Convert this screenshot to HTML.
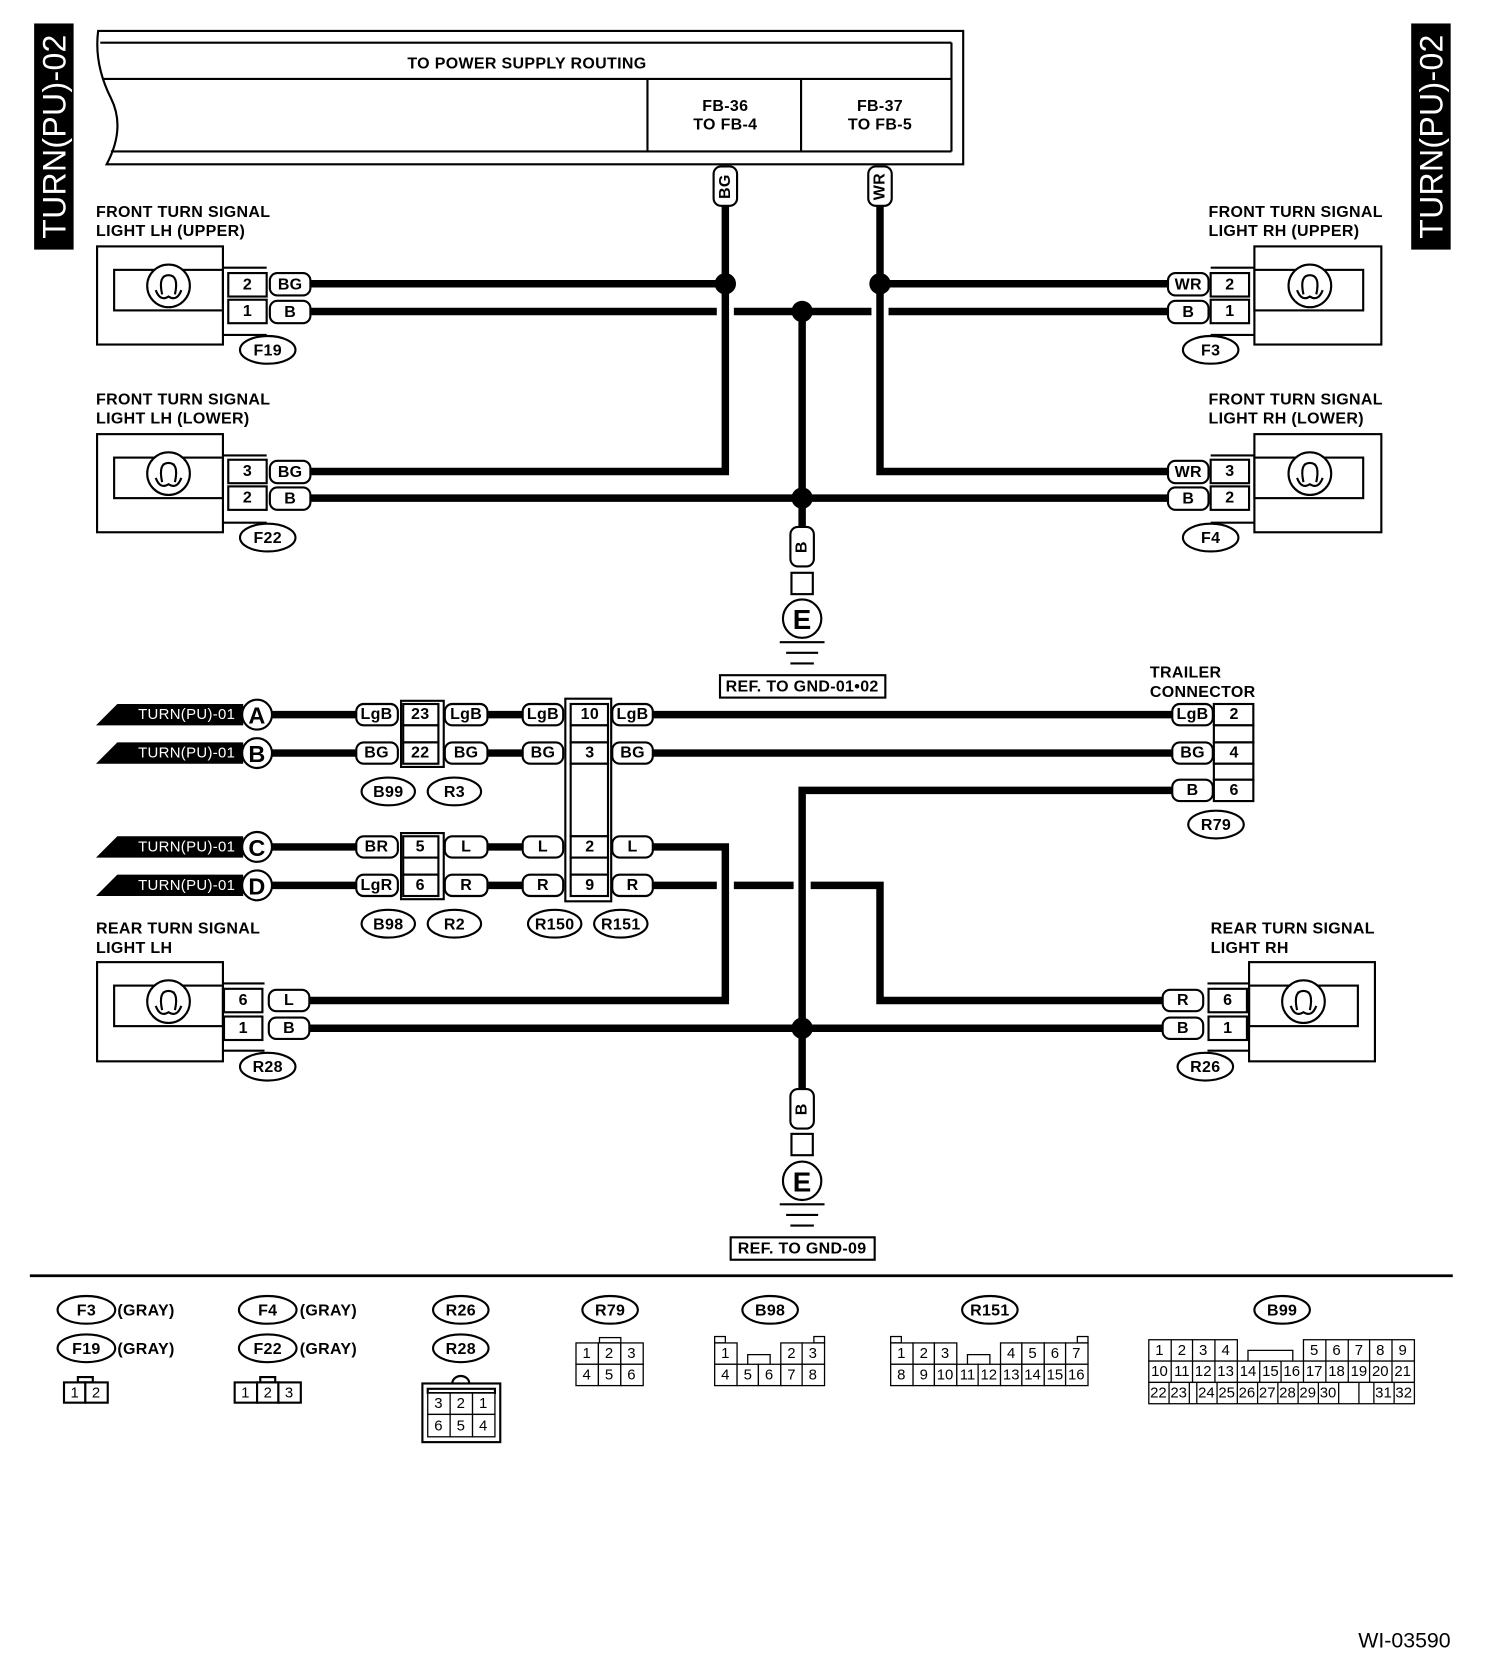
<!DOCTYPE html>
<html><head><meta charset="utf-8"><style>
html,body{margin:0;padding:0;background:#fff;width:1504px;height:1672px;overflow:hidden}
svg{display:block}
text{font-family:"Liberation Sans",Arial,sans-serif;font-weight:bold;font-size:15px;letter-spacing:0.3px;text-anchor:middle;dominant-baseline:central;fill:#000}
.n{font-weight:normal;font-size:14px;letter-spacing:0}
.l{text-anchor:start}
.w{fill:none;stroke:#000;stroke-width:7}
.s{fill:#fff;stroke:#000;stroke-width:2}
.b{fill:none;stroke:#000;stroke-width:2}
</style></head><body>
<svg width="1504" height="1672" viewBox="0 0 1410 1567.5" xmlns="http://www.w3.org/2000/svg">
<rect x="32" y="22" width="37" height="212" fill="#000"/>
<text transform="translate(51,128) rotate(-90)" style="fill:#fff;font-size:30px;font-weight:normal">TURN(PU)-02</text>
<rect x="1323" y="22" width="37" height="212" fill="#000"/>
<text transform="translate(1342,128) rotate(-90)" style="fill:#fff;font-size:30px;font-weight:normal">TURN(PU)-02</text>

<path d="M92,29 L903,29 L903,154 L100,154 Q118,120 104,92 Q88,60 92,29 Z" class="s" stroke-width="2.5"/>
<line x1="94" y1="40" x2="892" y2="40" class="b"/>
<line x1="892" y1="40" x2="892" y2="142" class="b"/>
<line x1="97" y1="74" x2="892" y2="74" class="b"/>
<line x1="104" y1="142" x2="892" y2="142" class="b"/>
<line x1="607" y1="74" x2="607" y2="142" class="b"/>
<line x1="751" y1="74" x2="751" y2="142" class="b"/>
<text x="494" y="60">TO POWER SUPPLY ROUTING</text>
<text x="680" y="100">FB-36</text><text x="680" y="117">TO FB-4</text>
<text x="825" y="100">FB-37</text><text x="825" y="117">TO FB-5</text>

<path class="w" d="M680,192 V442 H290"/>
<path class="w" d="M680,266 H290"/>
<path class="w" d="M825,192 V442 H1097"/>
<path class="w" d="M825,266 H1097"/>
<path class="w" d="M290,292 H672 M688,292 H817 M833,292 H1097"/>
<path class="w" d="M290,467 H1097"/>
<path class="w" d="M752,292 V497"/>
<circle cx="680" cy="266" r="10"/><circle cx="825" cy="266" r="10"/>
<circle cx="752" cy="292" r="10"/><circle cx="752" cy="467" r="10"/>
<rect x="669" y="156" width="22" height="37" rx="7" class="s"/>
<text transform="translate(680,175) rotate(-90)">BG</text>
<rect x="814" y="156" width="22" height="37" rx="7" class="s"/>
<text transform="translate(825,175) rotate(-90)">WR</text>

<rect x="741" y="494" width="22" height="37" rx="7" class="s"/>
<text transform="translate(752,513) rotate(-90)">B</text>
<rect x="742" y="537" width="20" height="20" class="s"/>
<circle cx="752" cy="580" r="18" class="s" stroke-width="2.5"/>
<text x="752" y="581" style="font-size:26px">E</text>
<line x1="731" y1="602" x2="773" y2="602" class="b"/>
<line x1="737" y1="612" x2="767" y2="612" class="b"/>
<line x1="741" y1="622" x2="763" y2="622" class="b"/>
<rect x="675" y="633" width="155" height="21" class="s"/>
<text x="752" y="644">REF. TO GND-01•02</text>

<text x="90" y="199" class="l">FRONT TURN SIGNAL</text>
<text x="90" y="217" class="l">LIGHT LH (UPPER)</text>
<rect x="91" y="231" width="118" height="92" class="s"/>
<rect x="107" y="253" width="102" height="38" class="b"/>
<circle cx="158" cy="268" r="20" class="s"/>
<path d="M146,272 Q150,283 158,278 Q166,283 170,272 M152,276 Q148,258 158,258 Q168,258 164,276" class="b" stroke-width="1.6"/>
<path d="M209,251 H250 M209,314 H250" class="b"/>
<rect x="214" y="256" width="36" height="22" class="s"/><text x="232" y="267">2</text>
<rect x="214" y="281" width="36" height="22" class="s"/><text x="232" y="292">1</text>
<rect x="253" y="256" width="38" height="21" rx="7" class="s"/><text x="272" y="267">BG</text>
<rect x="253" y="282" width="38" height="21" rx="7" class="s"/><text x="272" y="293">B</text>
<ellipse cx="251" cy="328" rx="26" ry="13" class="s"/><text x="251" y="329">F19</text>

<text x="90" y="375" class="l">FRONT TURN SIGNAL</text>
<text x="90" y="393" class="l">LIGHT LH (LOWER)</text>
<rect x="91" y="407" width="118" height="92" class="s"/>
<rect x="107" y="429" width="102" height="38" class="b"/>
<circle cx="158" cy="444" r="20" class="s"/>
<path d="M146,448 Q150,459 158,454 Q166,459 170,448 M152,452 Q148,434 158,434 Q168,434 164,452" class="b" stroke-width="1.6"/>
<path d="M209,427 H250 M209,490 H250" class="b"/>
<rect x="214" y="431" width="36" height="22" class="s"/><text x="232" y="442">3</text>
<rect x="214" y="456" width="36" height="22" class="s"/><text x="232" y="467">2</text>
<rect x="253" y="432" width="38" height="21" rx="7" class="s"/><text x="272" y="443">BG</text>
<rect x="253" y="457" width="38" height="21" rx="7" class="s"/><text x="272" y="468">B</text>
<ellipse cx="251" cy="504" rx="26" ry="13" class="s"/><text x="251" y="505">F22</text>

<text x="1133" y="199" class="l">FRONT TURN SIGNAL</text>
<text x="1133" y="217" class="l">LIGHT RH (UPPER)</text>
<rect x="1176" y="231" width="119" height="92" class="s"/>
<rect x="1176" y="253" width="102" height="38" class="b"/>
<circle cx="1228" cy="268" r="20" class="s"/>
<path d="M1216,272 Q1220,283 1228,278 Q1236,283 1240,272 M1222,276 Q1218,258 1228,258 Q1238,258 1234,276" class="b" stroke-width="1.6"/>
<path d="M1135,251 H1176 M1135,314 H1176" class="b"/>
<rect x="1135" y="256" width="36" height="22" class="s"/><text x="1153" y="267">2</text>
<rect x="1135" y="281" width="36" height="22" class="s"/><text x="1153" y="292">1</text>
<rect x="1095" y="256" width="38" height="21" rx="7" class="s"/><text x="1114" y="267">WR</text>
<rect x="1095" y="282" width="38" height="21" rx="7" class="s"/><text x="1114" y="293">B</text>
<ellipse cx="1135" cy="328" rx="26" ry="13" class="s"/><text x="1135" y="329">F3</text>

<text x="1133" y="375" class="l">FRONT TURN SIGNAL</text>
<text x="1133" y="393" class="l">LIGHT RH (LOWER)</text>
<rect x="1176" y="407" width="119" height="92" class="s"/>
<rect x="1176" y="429" width="102" height="38" class="b"/>
<circle cx="1228" cy="444" r="20" class="s"/>
<path d="M1216,448 Q1220,459 1228,454 Q1236,459 1240,448 M1222,452 Q1218,434 1228,434 Q1238,434 1234,452" class="b" stroke-width="1.6"/>
<path d="M1135,427 H1176 M1135,490 H1176" class="b"/>
<rect x="1135" y="431" width="36" height="22" class="s"/><text x="1153" y="442">3</text>
<rect x="1135" y="456" width="36" height="22" class="s"/><text x="1153" y="467">2</text>
<rect x="1095" y="432" width="38" height="21" rx="7" class="s"/><text x="1114" y="443">WR</text>
<rect x="1095" y="457" width="38" height="21" rx="7" class="s"/><text x="1114" y="468">B</text>
<ellipse cx="1135" cy="504" rx="26" ry="13" class="s"/><text x="1135" y="505">F4</text>

<path class="w" d="M255,670 H334 M458,670 H490 M612,670 H1099"/>
<path class="w" d="M255,706 H334 M458,706 H490 M612,706 H1099"/>
<path class="w" d="M255,794 H334 M458,794 H490 M612,794 H680 V938 H290"/>
<path class="w" d="M255,830 H334 M458,830 H490 M612,830 H672 M688,830 H744 M760,830 H825 V938 H1090"/>
<path class="w" d="M1099,741 H752 V1022"/>
<path class="w" d="M290,964 H1090"/>
<circle cx="752" cy="964" r="10"/>

<g>
<path d="M90,680 L110,660 L228,660 L228,680 Z"/><text x="175" y="670" style="fill:#fff;font-weight:normal;font-size:14px">TURN(PU)-01</text>
<circle cx="241" cy="670" r="14" class="s" stroke-width="2.5"/><text x="241" y="671" style="font-size:22px">A</text>
<path d="M90,716 L110,696 L228,696 L228,716 Z"/><text x="175" y="706" style="fill:#fff;font-weight:normal;font-size:14px">TURN(PU)-01</text>
<circle cx="241" cy="706" r="14" class="s" stroke-width="2.5"/><text x="241" y="707" style="font-size:22px">B</text>
<path d="M90,804 L110,784 L228,784 L228,804 Z"/><text x="175" y="794" style="fill:#fff;font-weight:normal;font-size:14px">TURN(PU)-01</text>
<circle cx="241" cy="794" r="14" class="s" stroke-width="2.5"/><text x="241" y="795" style="font-size:22px">C</text>
<path d="M90,840 L110,820 L228,820 L228,840 Z"/><text x="175" y="830" style="fill:#fff;font-weight:normal;font-size:14px">TURN(PU)-01</text>
<circle cx="241" cy="830" r="14" class="s" stroke-width="2.5"/><text x="241" y="831" style="font-size:22px">D</text>
</g>

<path d="M376,657 H416 V719 H376 Z" class="b"/>
<rect x="378" y="660" width="33" height="20" class="s"/><text x="394" y="670">23</text>
<rect x="378" y="680" width="33" height="16" class="s"/>
<rect x="378" y="696" width="33" height="20" class="s"/><text x="394" y="706">22</text>
<rect x="334" y="660" width="39" height="20" rx="7" class="s"/><text x="353" y="670">LgB</text>
<rect x="334" y="696" width="39" height="20" rx="7" class="s"/><text x="353" y="706">BG</text>
<rect x="417" y="660" width="40" height="20" rx="7" class="s"/><text x="437" y="670">LgB</text>
<rect x="417" y="696" width="40" height="20" rx="7" class="s"/><text x="437" y="706">BG</text>
<ellipse cx="364" cy="742" rx="25" ry="13" class="s"/><text x="364" y="743">B99</text>
<ellipse cx="426" cy="742" rx="25" ry="13" class="s"/><text x="426" y="743">R3</text>

<path d="M376,781 H416 V843 H376 Z" class="b"/>
<rect x="378" y="784" width="33" height="20" class="s"/><text x="394" y="794">5</text>
<rect x="378" y="804" width="33" height="16" class="s"/>
<rect x="378" y="820" width="33" height="20" class="s"/><text x="394" y="830">6</text>
<rect x="334" y="784" width="39" height="20" rx="7" class="s"/><text x="353" y="794">BR</text>
<rect x="334" y="820" width="39" height="20" rx="7" class="s"/><text x="353" y="830">LgR</text>
<rect x="417" y="784" width="40" height="20" rx="7" class="s"/><text x="437" y="794">L</text>
<rect x="417" y="820" width="40" height="20" rx="7" class="s"/><text x="437" y="830">R</text>
<ellipse cx="364" cy="866" rx="25" ry="13" class="s"/><text x="364" y="867">B98</text>
<ellipse cx="426" cy="866" rx="25" ry="13" class="s"/><text x="426" y="867">R2</text>

<path d="M530,655 H573 V845 H530 Z" class="b"/>
<rect x="535" y="660" width="35" height="20" class="s"/><text x="553" y="670">10</text>
<rect x="535" y="680" width="35" height="16" class="s"/>
<rect x="535" y="696" width="35" height="20" class="s"/><text x="553" y="706">3</text>
<rect x="535" y="716" width="35" height="68" class="s"/>
<rect x="535" y="784" width="35" height="20" class="s"/><text x="553" y="794">2</text>
<rect x="535" y="804" width="35" height="16" class="s"/>
<rect x="535" y="820" width="35" height="20" class="s"/><text x="553" y="830">9</text>
<rect x="490" y="660" width="38" height="20" rx="7" class="s"/><text x="509" y="670">LgB</text>
<rect x="490" y="696" width="38" height="20" rx="7" class="s"/><text x="509" y="706">BG</text>
<rect x="490" y="784" width="38" height="20" rx="7" class="s"/><text x="509" y="794">L</text>
<rect x="490" y="820" width="38" height="20" rx="7" class="s"/><text x="509" y="830">R</text>
<rect x="574" y="660" width="38" height="20" rx="7" class="s"/><text x="593" y="670">LgB</text>
<rect x="574" y="696" width="38" height="20" rx="7" class="s"/><text x="593" y="706">BG</text>
<rect x="574" y="784" width="38" height="20" rx="7" class="s"/><text x="593" y="794">L</text>
<rect x="574" y="820" width="38" height="20" rx="7" class="s"/><text x="593" y="830">R</text>
<ellipse cx="520" cy="866" rx="25" ry="13" class="s"/><text x="520" y="867">R150</text>
<ellipse cx="582" cy="866" rx="25" ry="13" class="s"/><text x="582" y="867">R151</text>

<text x="1078" y="631" class="l">TRAILER</text>
<text x="1078" y="649" class="l">CONNECTOR</text>
<rect x="1138" y="660" width="37" height="20" class="s"/><text x="1157" y="670">2</text>
<rect x="1138" y="680" width="37" height="16" class="s"/>
<rect x="1138" y="696" width="37" height="20" class="s"/><text x="1157" y="706">4</text>
<rect x="1138" y="716" width="37" height="15" class="s"/>
<rect x="1138" y="731" width="37" height="20" class="s"/><text x="1157" y="741">6</text>
<rect x="1099" y="660" width="38" height="20" rx="7" class="s"/><text x="1118" y="670">LgB</text>
<rect x="1099" y="696" width="38" height="20" rx="7" class="s"/><text x="1118" y="706">BG</text>
<rect x="1099" y="731" width="38" height="20" rx="7" class="s"/><text x="1118" y="741">B</text>
<ellipse cx="1140" cy="773" rx="26" ry="13" class="s"/><text x="1140" y="774">R79</text>

<text x="90" y="871" class="l">REAR TURN SIGNAL</text>
<text x="90" y="889" class="l">LIGHT LH</text>
<rect x="91" y="902" width="118" height="93" class="s"/>
<rect x="107" y="924" width="102" height="38" class="b"/>
<circle cx="158" cy="939" r="20" class="s"/>
<path d="M146,943 Q150,954 158,949 Q166,954 170,943 M152,947 Q148,929 158,929 Q168,929 164,947" class="b" stroke-width="1.6"/>
<path d="M209,922 H248 M209,985 H248" class="b"/>
<rect x="210" y="927" width="36" height="22" class="s"/><text x="228" y="938">6</text>
<rect x="210" y="953" width="36" height="22" class="s"/><text x="228" y="964">1</text>
<rect x="252" y="928" width="38" height="20" rx="7" class="s"/><text x="271" y="938">L</text>
<rect x="252" y="954" width="38" height="20" rx="7" class="s"/><text x="271" y="964">B</text>
<ellipse cx="251" cy="1000" rx="26" ry="13" class="s"/><text x="251" y="1001">R28</text>

<text x="1135" y="871" class="l">REAR TURN SIGNAL</text>
<text x="1135" y="889" class="l">LIGHT RH</text>
<rect x="1171" y="902" width="118" height="93" class="s"/>
<rect x="1171" y="924" width="102" height="38" class="b"/>
<circle cx="1222" cy="939" r="20" class="s"/>
<path d="M1210,943 Q1214,954 1222,949 Q1230,954 1234,943 M1216,947 Q1212,929 1222,929 Q1232,929 1228,947" class="b" stroke-width="1.6"/>
<path d="M1132,922 H1171 M1132,985 H1171" class="b"/>
<rect x="1133" y="927" width="36" height="22" class="s"/><text x="1151" y="938">6</text>
<rect x="1133" y="953" width="36" height="22" class="s"/><text x="1151" y="964">1</text>
<rect x="1090" y="928" width="38" height="20" rx="7" class="s"/><text x="1109" y="938">R</text>
<rect x="1090" y="954" width="38" height="20" rx="7" class="s"/><text x="1109" y="964">B</text>
<ellipse cx="1130" cy="1000" rx="26" ry="13" class="s"/><text x="1130" y="1001">R26</text>

<rect x="741" y="1021" width="22" height="37" rx="7" class="s"/>
<text transform="translate(752,1040) rotate(-90)">B</text>
<rect x="742" y="1063" width="20" height="20" class="s"/>
<circle cx="752" cy="1107" r="18" class="s" stroke-width="2.5"/>
<text x="752" y="1108" style="font-size:26px">E</text>
<line x1="731" y1="1129" x2="773" y2="1129" class="b"/>
<line x1="737" y1="1139" x2="767" y2="1139" class="b"/>
<line x1="741" y1="1149" x2="763" y2="1149" class="b"/>
<rect x="685" y="1160" width="135" height="21" class="s"/>
<text x="752" y="1171">REF. TO GND-09</text>

<line x1="28" y1="1196" x2="1362" y2="1196" stroke="#000" stroke-width="2.5"/>

<ellipse cx="81" cy="1228" rx="27" ry="13" class="s"/><text x="81" y="1229">F3</text><text x="110" y="1229" class="l">(GRAY)</text>
<ellipse cx="81" cy="1264" rx="27" ry="13" class="s"/><text x="81" y="1265">F19</text><text x="110" y="1265" class="l">(GRAY)</text>
<rect x="73" y="1291" width="14" height="5" class="s" stroke-width="1.5"/>
<rect x="60" y="1296" width="20" height="19" class="s" stroke-width="1.5"/><text x="70" y="1306" class="n">1</text>
<rect x="80" y="1296" width="21" height="19" class="s" stroke-width="1.5"/><text x="90" y="1306" class="n">2</text>

<ellipse cx="251" cy="1228" rx="27" ry="13" class="s"/><text x="251" y="1229">F4</text><text x="281" y="1229" class="l">(GRAY)</text>
<ellipse cx="251" cy="1264" rx="27" ry="13" class="s"/><text x="251" y="1265">F22</text><text x="281" y="1265" class="l">(GRAY)</text>
<rect x="244" y="1291" width="14" height="5" class="s" stroke-width="1.5"/>
<rect x="220" y="1296" width="21" height="19" class="s" stroke-width="1.5"/><text x="230" y="1306" class="n">1</text>
<rect x="241" y="1296" width="20" height="19" class="s" stroke-width="1.5"/><text x="251" y="1306" class="n">2</text>
<rect x="261" y="1296" width="21" height="19" class="s" stroke-width="1.5"/><text x="271" y="1306" class="n">3</text>

<ellipse cx="432" cy="1228" rx="26" ry="13" class="s"/><text x="432" y="1229">R26</text>
<ellipse cx="432" cy="1264" rx="26" ry="13" class="s"/><text x="432" y="1265">R28</text>
<path d="M424,1297 A8,7 0 0 1 440,1297" class="b" stroke-width="1.5"/>
<rect x="396" y="1297" width="73" height="55" class="s" stroke-width="1.5"/>
<rect x="401" y="1302" width="63" height="4" class="s" stroke-width="1.2"/>
<g stroke="#000" stroke-width="1.2" fill="#fff">
<rect x="401" y="1306" width="21" height="20"/><rect x="422" y="1306" width="21" height="20"/><rect x="443" y="1306" width="21" height="20"/>
<rect x="401" y="1326" width="21" height="21"/><rect x="422" y="1326" width="21" height="21"/><rect x="443" y="1326" width="21" height="21"/>
</g>
<text x="411" y="1316" class="n">3</text><text x="432" y="1316" class="n">2</text><text x="453" y="1316" class="n">1</text>
<text x="411" y="1337" class="n">6</text><text x="432" y="1337" class="n">5</text><text x="453" y="1337" class="n">4</text>

<ellipse cx="572" cy="1228" rx="26" ry="13" class="s"/><text x="572" y="1229">R79</text>
<g stroke="#000" stroke-width="1.2" fill="#fff">
<rect x="562" y="1254" width="20" height="5"/>
<rect x="540" y="1259" width="21" height="20"/><rect x="561" y="1259" width="21" height="20"/><rect x="582" y="1259" width="21" height="20"/>
<rect x="540" y="1279" width="21" height="20"/><rect x="561" y="1279" width="21" height="20"/><rect x="582" y="1279" width="21" height="20"/>
</g>
<text x="550" y="1269" class="n">1</text><text x="571" y="1269" class="n">2</text><text x="592" y="1269" class="n">3</text>
<text x="550" y="1289" class="n">4</text><text x="571" y="1289" class="n">5</text><text x="592" y="1289" class="n">6</text>

<ellipse cx="722" cy="1228" rx="26" ry="13" class="s"/><text x="722" y="1229">B98</text>
<g stroke="#000" stroke-width="1.2" fill="#fff">
<rect x="670" y="1253" width="10" height="6"/><rect x="763" y="1253" width="10" height="6"/>
<rect x="670" y="1259" width="21" height="20"/>
<path d="M701,1279 V1270 H722 V1279" fill="none"/>
<rect x="732" y="1259" width="20" height="20"/><rect x="752" y="1259" width="21" height="20"/>
<rect x="670" y="1279" width="21" height="20"/><rect x="691" y="1279" width="20" height="20"/><rect x="711" y="1279" width="21" height="20"/><rect x="732" y="1279" width="20" height="20"/><rect x="752" y="1279" width="21" height="20"/>
</g>
<text x="680" y="1269" class="n">1</text><text x="742" y="1269" class="n">2</text><text x="762" y="1269" class="n">3</text>
<text x="680" y="1289" class="n">4</text><text x="701" y="1289" class="n">5</text><text x="721" y="1289" class="n">6</text><text x="742" y="1289" class="n">7</text><text x="762" y="1289" class="n">8</text>

<ellipse cx="928" cy="1228" rx="26" ry="13" class="s"/><text x="928" y="1229">R151</text>
<g stroke="#000" stroke-width="1.2" fill="#fff">
<rect x="835" y="1253" width="10" height="6"/><rect x="1010" y="1253" width="10" height="6"/>
<rect x="835" y="1259" width="21" height="20"/><rect x="856" y="1259" width="20" height="20"/><rect x="876" y="1259" width="21" height="20"/>
<path d="M907,1279 V1270 H928 V1279" fill="none"/>
<rect x="938" y="1259" width="20" height="20"/><rect x="958" y="1259" width="21" height="20"/><rect x="979" y="1259" width="20" height="20"/><rect x="999" y="1259" width="21" height="20"/>
<rect x="835" y="1279" width="21" height="20"/><rect x="856" y="1279" width="20" height="20"/><rect x="876" y="1279" width="21" height="20"/><rect x="897" y="1279" width="20" height="20"/><rect x="917" y="1279" width="21" height="20"/><rect x="938" y="1279" width="20" height="20"/><rect x="958" y="1279" width="21" height="20"/><rect x="979" y="1279" width="20" height="20"/><rect x="999" y="1279" width="21" height="20"/>
</g>
<text x="845" y="1269" class="n">1</text><text x="866" y="1269" class="n">2</text><text x="886" y="1269" class="n">3</text><text x="948" y="1269" class="n">4</text><text x="968" y="1269" class="n">5</text><text x="989" y="1269" class="n">6</text><text x="1009" y="1269" class="n">7</text>
<text x="845" y="1289" class="n">8</text><text x="866" y="1289" class="n">9</text><text x="886" y="1289" class="n">10</text><text x="907" y="1289" class="n">11</text><text x="927" y="1289" class="n">12</text><text x="948" y="1289" class="n">13</text><text x="968" y="1289" class="n">14</text><text x="989" y="1289" class="n">15</text><text x="1009" y="1289" class="n">16</text>

<ellipse cx="1202" cy="1228" rx="26" ry="13" class="s"/><text x="1202" y="1229">B99</text>
<g stroke="#000" stroke-width="1.2" fill="#fff">
<rect x="1077" y="1256" width="83" height="20"/>
<path d="M1098,1256 V1276 M1118,1256 V1276 M1139,1256 V1276"/>
<path d="M1170,1276 V1266 H1212 V1276" fill="none"/>
<rect x="1222" y="1256" width="104" height="20"/>
<path d="M1243,1256 V1276 M1264,1256 V1276 M1284,1256 V1276 M1305,1256 V1276"/>
<rect x="1077" y="1276" width="249" height="20"/>
<path d="M1098,1276 V1296 M1118,1276 V1296 M1139,1276 V1296 M1160,1276 V1296 M1181,1276 V1296 M1201,1276 V1296 M1222,1276 V1296 M1243,1276 V1296 M1264,1276 V1296 M1284,1276 V1296 M1305,1276 V1296"/>
<rect x="1077" y="1296" width="249" height="20"/>
<path d="M1096,1296 V1316 M1115,1296 V1316 M1122,1296 V1316 M1141,1296 V1316 M1160,1296 V1316 M1179,1296 V1316 M1198,1296 V1316 M1217,1296 V1316 M1236,1296 V1316 M1255,1296 V1316 M1274,1296 V1316 M1288,1296 V1316 M1307,1296 V1316"/>
</g>
<text x="1087" y="1266" class="n">1</text><text x="1108" y="1266" class="n">2</text><text x="1128" y="1266" class="n">3</text><text x="1149" y="1266" class="n">4</text>
<text x="1232" y="1266" class="n">5</text><text x="1253" y="1266" class="n">6</text><text x="1274" y="1266" class="n">7</text><text x="1294" y="1266" class="n">8</text><text x="1315" y="1266" class="n">9</text>
<text x="1087" y="1286" class="n">10</text><text x="1108" y="1286" class="n">11</text><text x="1128" y="1286" class="n">12</text><text x="1149" y="1286" class="n">13</text><text x="1170" y="1286" class="n">14</text><text x="1191" y="1286" class="n">15</text><text x="1211" y="1286" class="n">16</text><text x="1232" y="1286" class="n">17</text><text x="1253" y="1286" class="n">18</text><text x="1274" y="1286" class="n">19</text><text x="1294" y="1286" class="n">20</text><text x="1315" y="1286" class="n">21</text>
<text x="1086" y="1306" class="n">22</text><text x="1105" y="1306" class="n">23</text><text x="1131" y="1306" class="n">24</text><text x="1150" y="1306" class="n">25</text><text x="1169" y="1306" class="n">26</text><text x="1188" y="1306" class="n">27</text><text x="1207" y="1306" class="n">28</text><text x="1226" y="1306" class="n">29</text><text x="1245" y="1306" class="n">30</text><text x="1297" y="1306" class="n">31</text><text x="1316" y="1306" class="n">32</text>

<text x="1360" y="1538" style="text-anchor:end;font-weight:normal;font-size:20px;letter-spacing:0">WI-03590</text>
</svg>
</body></html>
